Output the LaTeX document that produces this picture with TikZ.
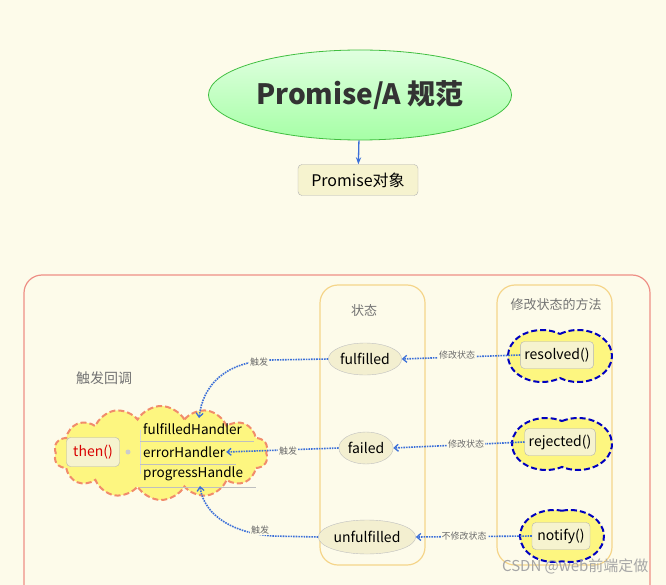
\documentclass[tikz,border=0pt]{standalone}
\usepackage{fontspec}
\setmainfont{Noto Sans CJK SC}
\usetikzlibrary{shapes.symbols,shapes.geometric,arrows.meta}
\definecolor{bg}{HTML}{FDFBEA}
\definecolor{dotb}{HTML}{3B6FD8}
\definecolor{colb}{HTML}{F5D58A}
\definecolor{redb}{HTML}{EE8F86}
\definecolor{cloudy}{HTML}{FDF680}
\definecolor{boxf}{HTML}{F6F3CF}
\definecolor{ellf}{HTML}{F3EFD0}
\tikzset{
  lbl/.style={font=\fontsize{9}{10}\selectfont, text=gray!85!black, fill=bg, inner sep=1pt},
  conn/.style={dotb, densely dotted, line width=1.6pt, -{Straight Barb[length=4pt,width=7pt,line width=1.3pt]}},
  stellipse/.style={ellipse, draw=gray!50, fill=ellf, font=\fontsize{14}{16}\selectfont, inner sep=1pt},
  mbox/.style={rounded corners=4pt, draw=gray!60, fill=boxf, font=\fontsize{14}{16}\selectfont, inner sep=4pt},
  peanutline/.style={draw=blue!75!black, dash pattern=on 6pt off 3pt, line width=2pt, fill=cloudy},
  column/.style={draw=colb, line width=1.2pt, rounded corners=18pt}
}
% \peanutshape{cx}{cy}{d}{rx}{ry}
\newcommand\peanutshape[5]{%
  \pgfmathsetmacro\pa{acos(#3/#4)}%
  \pgfmathsetmacro\py{#5*sin(\pa)}%
  \draw[peanutline, shift={(#1,#2)}] (0,-\py) arc[start angle=-180+\pa, end angle=180-\pa, x radius=#4, y radius=#5]
     arc[start angle=\pa, end angle=360-\pa, x radius=#4, y radius=#5] -- cycle;}
\begin{document}
\begin{tikzpicture}[x=1pt,y=-1pt]
\useasboundingbox (0,0) rectangle (666,585);
\fill[bg] (0,0) rectangle (666,585);
% top
\node[ellipse, draw=green!50!gray, line width=0.8pt, top color=green!12!white, bottom color=green!35!white, minimum width=278pt, minimum height=90pt, font=\bfseries\fontsize{28}{30}\selectfont, text=black!80] (spec) at (360,95) {Promise/A 规范};
\node[mbox, font=\fontsize{16}{18}\selectfont, minimum width=120pt, minimum height=31pt] (obj) at (358,180) {Promise对象};
\draw[dotb, line width=1.3pt, -{Stealth[length=7pt]}] (spec) -- (obj);
% frame
\draw[redb, line width=1.2pt, rounded corners=18pt] (24,600) -- (24,275) -- (650,275) -- (650,600);
\draw[column] (320,285) rectangle (425,565);
\draw[column] (497,285) rectangle (612,565);
\node[font=\fontsize{13}{15}\selectfont, text=gray!90!black] (t1) at (364,311) {状态};
\node[font=\fontsize{13}{15}\selectfont, text=gray!90!black] (t2) at (556,305) {修改状态的方法};
\node[font=\fontsize{14}{16}\selectfont, text=gray!90!black] (t3) at (104,378) {触发回调};
% states
\node[stellipse, minimum width=64pt, minimum height=32pt] (ful) at (365,359) {fulfilled};
\node[stellipse, minimum width=52pt, minimum height=32pt] (fail) at (366,448) {failed};
\node[stellipse, minimum width=82pt, minimum height=34pt] (unf) at (367,537) {unfulfilled};
% methods
\peanutshape{560}{356}{18}{34}{26}
\node[mbox, minimum width=70pt, minimum height=27pt] (res) at (557,355) {resolved()};
\peanutshape{562}{444}{16}{34}{26}
\node[mbox, minimum width=70pt, minimum height=27pt] (rej) at (560,442) {rejected()};
\peanutshape{562}{536}{8}{34}{26}
\node[mbox, minimum width=58pt, minimum height=27pt] (noti) at (561,536) {notify()};
% then cloud
\node[cloud, cloud puffs=14, cloud puff arc=120, draw=redb!80!orange, dash pattern=on 6pt off 3pt, line width=2pt, fill=cloudy, minimum width=214pt, minimum height=94pt] (tc) at (161,453) {};
\node[mbox, text=red!85!black, minimum width=53pt, minimum height=29pt] (then) at (93,452) {then()};
\fill[gray!40] (128,452) circle (2.5pt);
\draw[gray!30, line width=0.8pt] (140,430) -- (140,474);
\node[font=\fontsize{13.5}{15}\selectfont, anchor=west, inner sep=1pt] (fh) at (142,429) {fulfilledHandler};
\node[font=\fontsize{13.5}{15}\selectfont, anchor=west, inner sep=1pt] (eh) at (142,452) {errorHandler};
\node[font=\fontsize{13.5}{15}\selectfont, anchor=west, inner sep=1pt] (ph) at (142,474) {progressHandle};
\foreach \y/\x in {441/254,464/236,487/256} \draw[gray!50, line width=0.7pt] (140,\y) -- (\x,\y);
% connectors
\draw[conn] (ful.west) -- (270,360) .. controls (225,362) and (203,385) .. (199,418);
\node[lbl] (l1) at (259,362) {触发};
\draw[conn] (fail.west) -- (eh.east);
\node[lbl] (l2) at (288,451) {触发};
\draw[conn] (unf.west) -- (272,536) .. controls (225,532) and (203,510) .. (200,486);
\node[lbl] (l3) at (260,530) {触发};
\draw[conn] (res.west) -- (ful.east);
\node[lbl] (l4) at (457,355) {修改状态};
\draw[conn] (rej.west) -- (fail.east);
\node[lbl] (l5) at (466,444) {修改状态};
\draw[conn] (noti.west) -- (unf.east);
\node[lbl] (l6) at (464,536) {不修改状态};
% watermark
\node[font=\fontsize{15}{17}\selectfont, text=gray!70, anchor=east] (wm) at (652,566) {CSDN @web前端定做};
\end{tikzpicture}
\end{document}
